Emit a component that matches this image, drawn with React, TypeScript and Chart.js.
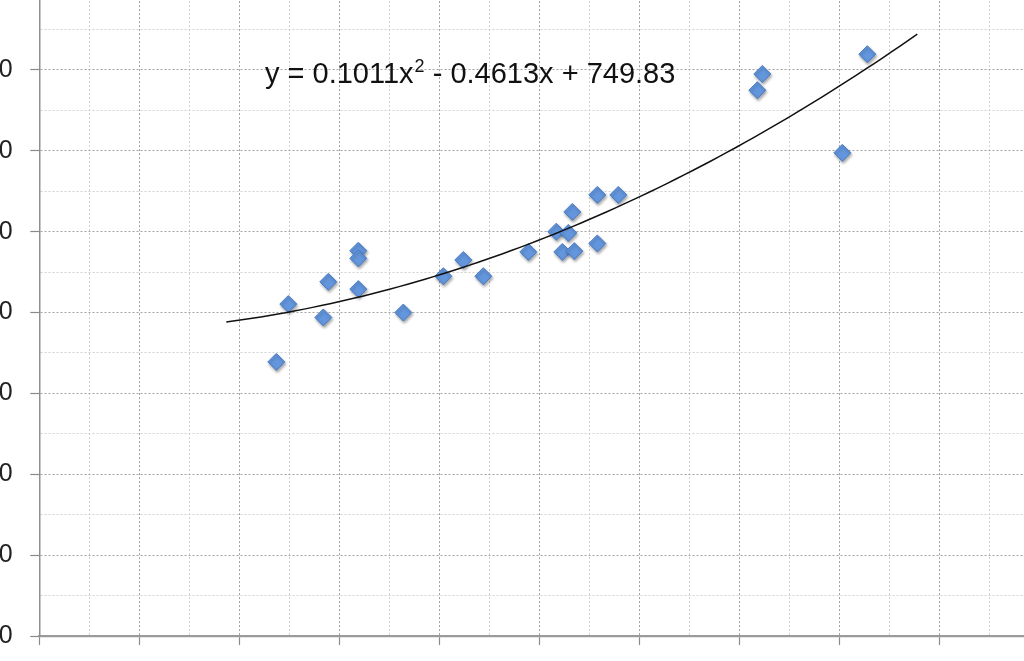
import React, { useEffect, useRef } from "react";
import { Chart, registerables } from "chart.js";

Chart.register(...registerables);

// Data
const POINT_X = [23.7, 24.9, 28.4, 28.9, 31.9, 31.9, 31.9, 36.4, 40.4, 42.4, 44.4, 48.9, 51.7, 52.3, 52.9, 53.3, 53.5, 55.8, 55.8, 57.9, 71.8, 72.3, 80.3, 82.8];
const POINT_Y = [678, 821, 788, 876, 953, 934, 858, 800, 890, 930, 890, 950, 1000, 950, 997, 1049, 952, 1091, 971, 1091, 1350, 1390, 1195, 1439];

// Polynomial trendline shown on the chart: y = a x^2 + b x + c
const TREND_COEFFS = [0.1011, -0.4613, 749.83];
const TREND_RANGE = [18.7, 87.8];
const EQUATION_PARTS = ["y = 0.1011x", "2", " - 0.4613x + 749.83"];

const X_MIN = 0;
const X_MAX = 100;
const Y_MIN = 0;
const Y_MAX = 1600;

const FONT = "'Liberation Sans', Arial, Helvetica, sans-serif";

function trendPoints() {
  const pts: { x: number; y: number }[] = [];
  const n = 80;
  for (let i = 0; i <= n; i++) {
    const x = TREND_RANGE[0] + ((TREND_RANGE[1] - TREND_RANGE[0]) * i) / n;
    const y = TREND_COEFFS[0] * x * x + TREND_COEFFS[1] * x + TREND_COEFFS[2];
    pts.push({ x, y });
  }
  return pts;
}

export default function App() {
  const canvasRef = useRef<HTMLCanvasElement | null>(null);

  useEffect(() => {
    if (!canvasRef.current) return;

    const equationPlugin = {
      id: "equationText",
      afterDatasetsDraw(chart: any) {
        const { ctx, chartArea } = chart;
        ctx.save();
        ctx.fillStyle = "#111";
        ctx.textBaseline = "alphabetic";
        ctx.textAlign = "left";
        let x = chartArea.left + 225.7;
        const y = chartArea.top + 94;
        ctx.font = `29px ${FONT}`;
        ctx.fillText(EQUATION_PARTS[0], x, y);
        x += ctx.measureText(EQUATION_PARTS[0]).width + 1;
        ctx.font = `18px ${FONT}`;
        ctx.fillText(EQUATION_PARTS[1], x, y - 11);
        x += ctx.measureText(EQUATION_PARTS[1]).width;
        ctx.font = `29px ${FONT}`;
        ctx.fillText(EQUATION_PARTS[2], x, y);
        ctx.restore();
      },
    };

    const shadowPlugin = {
      id: "pointShadow",
      beforeDatasetDraw(chart: any, args: any) {
        if (args.index === 1) {
          const ctx = chart.ctx;
          ctx.save();
          ctx.shadowColor = "rgba(0,0,0,0.35)";
          ctx.shadowBlur = 3;
          ctx.shadowOffsetX = 1;
          ctx.shadowOffsetY = 2;
        }
      },
      afterDatasetDraw(chart: any, args: any) {
        if (args.index === 1) {
          chart.ctx.restore();
        }
      },
    };

    const chart = new Chart(canvasRef.current, {
      type: "scatter",
      data: {
        datasets: [
          {
            type: "line",
            data: trendPoints(),
            borderColor: "#111",
            borderWidth: 1.5,
            pointRadius: 0,
            fill: false,
            tension: 0,
          } as any,
          {
            type: "scatter",
            data: POINT_X.map((x, i) => ({ x, y: POINT_Y[i] })),
            pointStyle: "rectRot",
            pointRadius: 8.5,
            backgroundColor: "#6396dd",
            borderColor: "#4a7cc6",
            borderWidth: 1,
          },
        ],
      },
      options: {
        animation: false,
        responsive: true,
        maintainAspectRatio: false,
        layout: { padding: { top: 89.1, right: 20.7, left: 0, bottom: 0 } },
        plugins: {
          legend: { display: false },
          tooltip: { enabled: false },
        },
        scales: {
          x: {
            type: "linear",
            min: X_MIN,
            max: X_MAX,
            afterFit(scale: any) {
              scale.height = 84;
              scale.paddingLeft = 0;
              scale.paddingRight = 0;
            },
            ticks: {
              display: false,
              stepSize: 5,
              padding: 14,
              color: "#222",
              font: { family: FONT, size: 25 },
              callback: (v: any) => (Number(v) % 10 === 0 ? String(v) : ""),
            },
            grid: {
              color: (c: any) => (c.tick && c.tick.value % 10 === 0 ? "#a3a3a3" : "#d0d0d0"),
              lineWidth: 1,
              tickLength: 9,
              tickColor: (c: any) => (c.tick && c.tick.value % 10 === 0 ? "#8a8a8a" : "rgba(0,0,0,0)"),
              tickBorderDash: [],
              tickWidth: 1.2,
            } as any,
            border: { display: true, color: "#9a9a9a", width: 2.2, dash: [2, 2] },
          },
          y: {
            type: "linear",
            min: Y_MIN,
            max: Y_MAX,
            afterFit(scale: any) {
              scale.width = 139.3;
            },
            ticks: {
              stepSize: 100,
              padding: 17.6,
              color: "#222",
              font: { family: FONT, size: 25 },
              callback: (v: any) => (Number(v) % 200 === 0 ? String(v) : ""),
            },
            grid: {
              color: (c: any) => (c.tick && c.tick.value % 200 === 0 ? "#a3a3a3" : "#d0d0d0"),
              lineWidth: 1,
              tickLength: 9,
              tickColor: (c: any) => (c.tick && c.tick.value % 200 === 0 ? "#8a8a8a" : "rgba(0,0,0,0)"),
              tickBorderDash: [],
              tickWidth: 1.2,
            } as any,
            border: { display: true, color: "#8f8f8f", width: 1.5, dash: [2, 2] },
          },
        },
      },
      plugins: [equationPlugin, shadowPlugin],
    });

    return () => chart.destroy();
  }, []);

  return (
    <div
      style={{
        position: "fixed",
        left: 0,
        top: 0,
        width: 1024,
        height: 661,
        overflow: "hidden",
        background: "#fff",
      }}
    >
      <div style={{ position: "absolute", left: -100, top: -100, width: 1160, height: 820 }}>
        <canvas ref={canvasRef} />
      </div>
    </div>
  );
}
